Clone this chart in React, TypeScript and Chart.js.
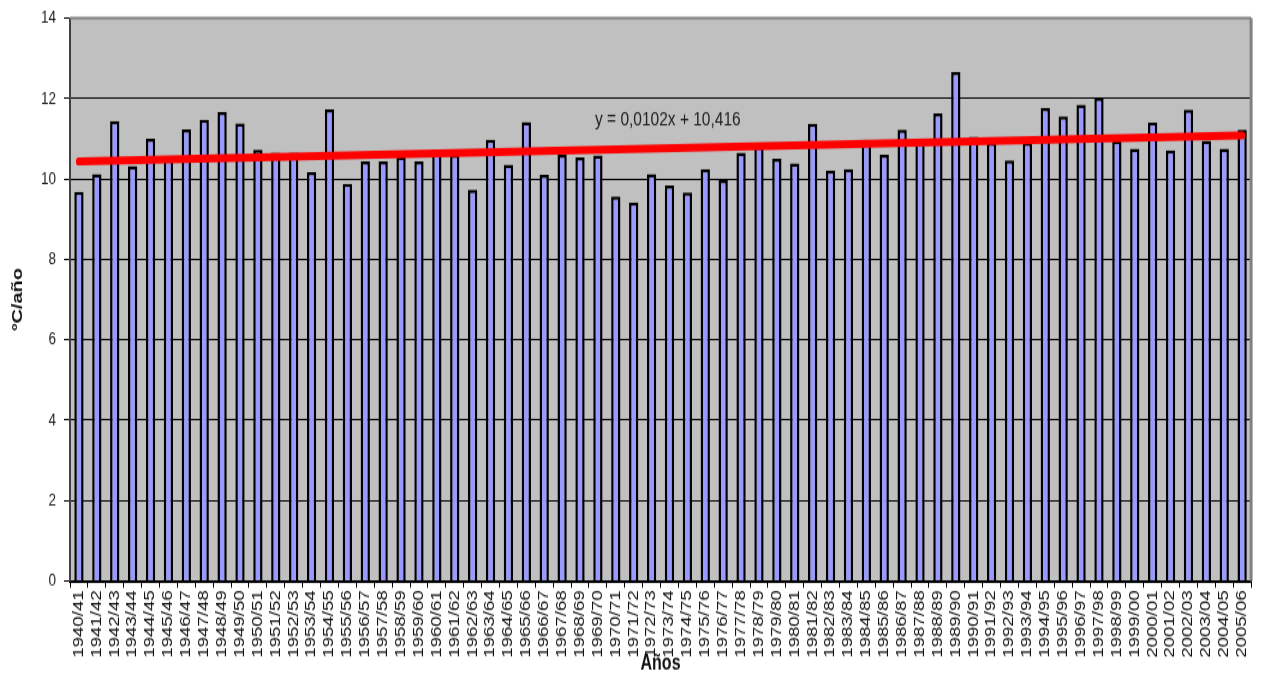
import React, { useEffect, useRef } from "react";
import { Chart, registerables } from "chart.js";

Chart.register(...registerables);

const categories = [
  "1940/41", "1941/42", "1942/43", "1943/44", "1944/45", "1945/46", "1946/47", "1947/48", "1948/49", "1949/50",
  "1950/51", "1951/52", "1952/53", "1953/54", "1954/55", "1955/56", "1956/57", "1957/58", "1958/59", "1959/60",
  "1960/61", "1961/62", "1962/63", "1963/64", "1964/65", "1965/66", "1966/67", "1967/68", "1968/69", "1969/70",
  "1970/71", "1971/72", "1972/73", "1973/74", "1974/75", "1975/76", "1976/77", "1977/78", "1978/79", "1979/80",
  "1980/81", "1981/82", "1982/83", "1983/84", "1984/85", "1985/86", "1986/87", "1987/88", "1988/89", "1989/90",
  "1990/91", "1991/92", "1992/93", "1993/94", "1994/95", "1995/96", "1996/97", "1997/98", "1998/99", "1999/00",
  "2000/01", "2001/02", "2002/03", "2003/04", "2004/05", "2005/06",
];

const temperatures = [
  9.68, 10.12, 11.44, 10.32, 11.0, 10.55, 11.23, 11.47, 11.66, 11.38,
  10.72, 10.65, 10.65, 10.17, 11.73, 9.88, 10.43, 10.43, 10.55, 10.43,
  10.72, 10.6, 9.73, 10.97, 10.35, 11.41, 10.1, 10.6, 10.53, 10.58,
  9.56, 9.41, 10.12, 9.84, 9.66, 10.24, 9.97, 10.65, 10.8, 10.5,
  10.38, 11.37, 10.21, 10.24, 10.97, 10.6, 11.22, 10.9, 11.63, 12.66,
  11.05, 10.9, 10.46, 10.9, 11.76, 11.55, 11.84, 12.02, 10.95, 10.75,
  11.4, 10.71, 11.72, 10.95, 10.75, 11.22,
];

// Trend line end points (as drawn in the reference)
const trendStart = 10.43;
const trendEnd = 11.08;

const yMin = 0;
const yMax = 14;
const yStep = 2;

const equationLabel = "y = 0,0102x + 10,416";
const yTitle = "ºC/año";
const xTitle = "Años";

const FONT = "'Liberation Sans', Arial, sans-serif";

// canvas is drawn at this height, then stretched vertically to 675px (as in the reference image)
const CANVAS_W = 1261;
const CANVAS_H = 506;

const plotFrame = {
  id: "plotFrame",
  beforeDraw(chart: any) {
    const { ctx, chartArea: a } = chart;
    ctx.save();
    ctx.fillStyle = "#C0C0C0";
    ctx.fillRect(a.left, a.top, a.right - a.left, a.bottom - a.top);
    ctx.restore();
  },
  beforeDatasetsDraw(chart: any) {
    const { ctx, chartArea: a } = chart;
    ctx.save();
    ctx.strokeStyle = "#808080";
    ctx.lineWidth = 2;
    ctx.beginPath();
    ctx.moveTo(a.left, a.top);
    ctx.lineTo(a.right, a.top);
    ctx.stroke();
    ctx.lineWidth = 3;
    ctx.beginPath();
    ctx.moveTo(a.right, a.top);
    ctx.lineTo(a.right, a.bottom);
    ctx.stroke();
    ctx.restore();
  },
  afterDatasetsDraw(chart: any) {
    const { ctx } = chart;
    ctx.save();
    ctx.fillStyle = "#222";
    ctx.font = `15.5px ${FONT}`;
    ctx.textAlign = "left";
    ctx.textBaseline = "middle";
    ctx.fillText(equationLabel, 595, 90);
    ctx.restore();
  },
};

export default function App() {
  const ref = useRef<HTMLCanvasElement>(null);

  useEffect(() => {
    if (!ref.current) return;
    const trend = categories.map((_, i) =>
      i === 0 ? trendStart : i === categories.length - 1 ? trendEnd : null
    );
    const chart = new Chart(ref.current, {
      data: {
        labels: categories,
        datasets: [
          {
            type: "bar",
            label: "Temperatura media",
            data: temperatures,
            backgroundColor: "#9999FF",
            borderColor: "#000000",
            borderWidth: 2.5,
            barPercentage: 0.52,
            categoryPercentage: 1,
            order: 1,
          },
          {
            type: "line",
            label: "Tendencia",
            data: trend,
            borderColor: "#FF0000",
            borderWidth: 6,
            borderCapStyle: "round",
            pointRadius: 0,
            spanGaps: true,
            fill: false,
            order: 0,
          },
        ],
      } as any,
      options: {
        responsive: false,
        animation: false,
        devicePixelRatio: 1,
        layout: { padding: { left: 8, right: 8, top: 13.5, bottom: 0 } },
        plugins: {
          legend: { display: false },
          tooltip: { enabled: false },
        },
        scales: {
          x: {
            type: "category",
            grid: {
              display: true,
              drawOnChartArea: false,
              drawTicks: true,
              tickLength: 5,
              color: "#000",
              offset: true,
            },
            border: { display: true, color: "#000", width: 2 },
            ticks: {
              autoSkip: false,
              maxRotation: 90,
              minRotation: 90,
              padding: 2,
              color: "#111",
              font: { family: FONT, size: 14 },
            },
            title: {
              display: true,
              text: xTitle,
              color: "#111",
              font: { family: FONT, size: 16, weight: "bold", lineHeight: 1.1 },
              padding: { top: 0, bottom: 0 },
            },
            afterFit(scale: any) {
              scale.height = CANVAS_H - 435.5;
            },
          },
          y: {
            min: yMin,
            max: yMax,
            ticks: {
              stepSize: yStep,
              padding: 8,
              color: "#222",
              font: { family: FONT, size: 13.5 },
            },
            grid: {
              color: (c: any) => (c.tick && c.tick.value === yMax ? "rgba(0,0,0,0)" : "#000"),
              tickColor: "#000",
              tickLength: 6,
              lineWidth: 1,
            },
            border: { display: true, color: "#404040", width: 2 },
            title: {
              display: true,
              text: yTitle,
              color: "#111",
              font: { family: FONT, size: 15, weight: "bold" },
              padding: { top: 1, bottom: 0 },
            },
            afterFit(scale: any) {
              scale.width = 62;
              scale.paddingTop = 0;
            },
          },
        },
      } as any,
      plugins: [plotFrame],
    });
    return () => chart.destroy();
  }, []);

  return (
    <div style={{ position: "fixed", left: 0, top: 0, width: 1261, height: 675, background: "#fff" }}>
      <canvas
        ref={ref}
        width={CANVAS_W}
        height={CANVAS_H}
        style={{ width: "1261px", height: "675px", display: "block" }}
      />
    </div>
  );
}
